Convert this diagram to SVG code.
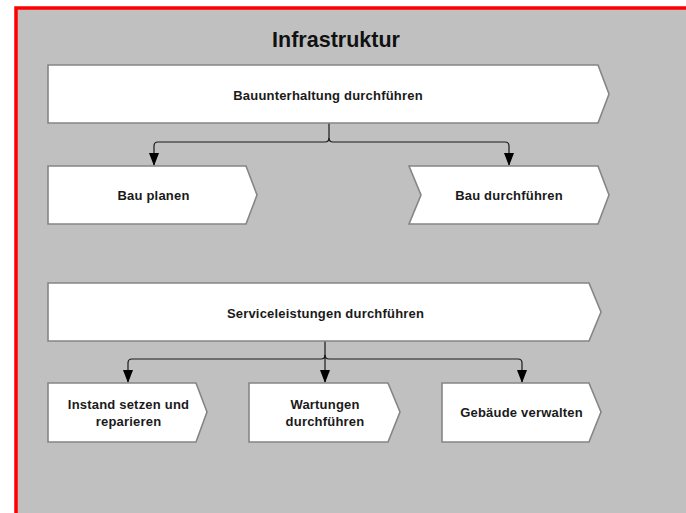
<svg xmlns="http://www.w3.org/2000/svg" width="686" height="513" viewBox="0 0 686 513">
<style>
.node{fill:#ffffff;stroke:#858585;stroke-width:1.6}
.lbl{font-family:"Liberation Sans",Arial,sans-serif;font-size:13px;letter-spacing:0.2px;font-weight:bold;fill:#1a1a1a;text-anchor:middle}
.conn{fill:none;stroke:#1a1a1a;stroke-width:1.2}
</style>
<defs>
<marker id="arr" markerWidth="13" markerHeight="10" refX="12" refY="5" orient="auto" markerUnits="userSpaceOnUse" viewBox="0 0 13 10">
<path d="M0,0 L13,5 L0,10 Z" fill="#000"/>
</marker>
</defs>
<rect x="0" y="0" width="686" height="513" fill="#ffffff"/>
<rect id="frame" x="16" y="8" width="690" height="520" fill="#c0c0c0" stroke="#ff0000" stroke-width="3.5"/>
<text id="title" x="336" y="47" font-family="'Liberation Sans',Arial,sans-serif" font-size="21.5" font-weight="bold" fill="#111" text-anchor="middle">Infrastruktur</text>

<g id="connectors">
<path class="conn" d="M329,123 V138 Q329,142 325,142 H158 Q154,142 154,146 V165" marker-end="url(#arr)"/>
<path class="conn" d="M329,138 Q329,142 333,142 H505 Q509,142 509,146 V165" marker-end="url(#arr)"/>
<path class="conn" d="M325,341 V355 Q325,359 321,359 H132 Q128,359 128,363 V382" marker-end="url(#arr)"/>
<path class="conn" d="M325,355 Q325,359 329,359 H518 Q522,359 522,363 V382" marker-end="url(#arr)"/>
<path class="conn" d="M325,355 V382" marker-end="url(#arr)"/>
</g>

<g id="n-bauunterhaltung">
<path class="node" d="M48,65 H598 L609,94 L598,123 H48 Z"/>
<text class="lbl" x="328" y="100">Bauunterhaltung durchführen</text>
</g>
<g id="n-bau-planen">
<path class="node" d="M48,166 H246 L257,195 L246,224 H48 Z"/>
<text class="lbl" x="153.5" y="200">Bau planen</text>
</g>
<g id="n-bau-durchfuehren">
<path class="node" d="M409,166 H598 L609,195 L598,224 H409 L421,195 Z"/>
<text class="lbl" x="509" y="200">Bau durchführen</text>
</g>
<g id="n-serviceleistungen">
<path class="node" d="M48,283 H589 L601,312 L589,341 H48 Z"/>
<text class="lbl" x="325.5" y="318">Serviceleistungen durchführen</text>
</g>
<g id="n-instand">
<path class="node" d="M48,383 H196 L207,412 L196,442 H48 Z"/>
<text class="lbl" x="128.5" y="409">Instand setzen und</text>
<text class="lbl" x="128.5" y="426">reparieren</text>
</g>
<g id="n-wartungen">
<path class="node" d="M249,383 H388 L400,412 L388,442 H249 Z"/>
<text class="lbl" x="325" y="409">Wartungen</text>
<text class="lbl" x="325" y="426">durchführen</text>
</g>
<g id="n-gebaeude">
<path class="node" d="M442,383 H589 L601,412 L589,442 H442 Z"/>
<text class="lbl" x="521.5" y="417">Gebäude verwalten</text>
</g>
</svg>
